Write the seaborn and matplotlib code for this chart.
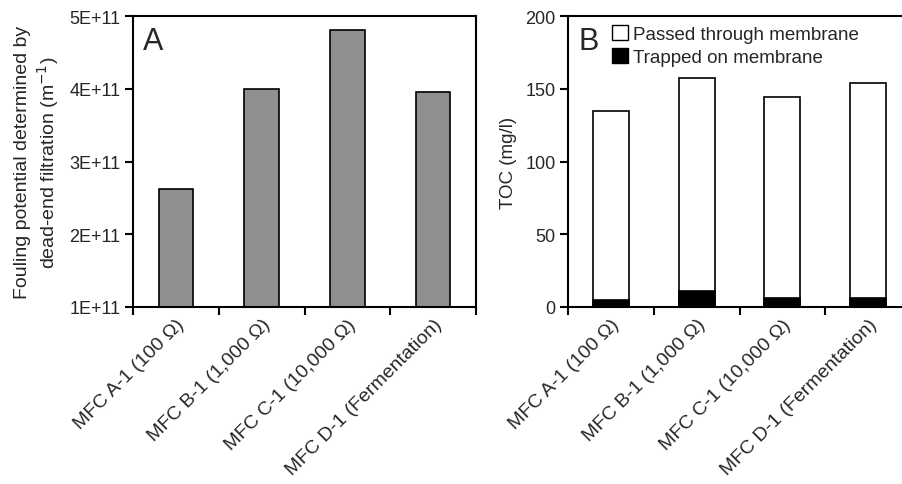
import matplotlib
matplotlib.use("Agg")
import matplotlib.pyplot as plt
from matplotlib.patches import Patch
import seaborn as sns
import pandas as pd

# Samples (shared by both panels)
samples = ["MFC A-1 (100 Ω)", "MFC B-1 (1,000 Ω)", "MFC C-1 (10,000 Ω)",
           "MFC D-1 (Fermentation)"]

# Panel A: fouling potential from dead-end filtration (m^-1)
fouling = [2.62e11, 4.00e11, 4.81e11, 3.95e11]
fouling_ticks = [1e11, 2e11, 3e11, 4e11, 5e11]
fouling_ticklabels = ["1E+11", "2E+11", "3E+11", "4E+11", "5E+11"]

# Panel B: TOC split into fraction trapped on / passed through the membrane (mg/l)
toc_trapped = [5.0, 11.0, 6.4, 6.4]
toc_passed = [129.5, 146.4, 137.9, 147.6]
toc_ticks = [0, 50, 100, 150, 200]

sns.set_theme(style="white")
plt.rcParams["font.family"] = ["Liberation Sans", "DejaVu Sans"]
plt.rcParams["axes.linewidth"] = 1.5
plt.rcParams["axes.edgecolor"] = "black"

fig = plt.figure(figsize=(9.02, 4.85), dpi=100)
axA = fig.add_axes([133 / 902, 177 / 485, 343 / 902, 291 / 485])
axB = fig.add_axes([568 / 902, 177 / 485, 343 / 902, 291 / 485])

dfA = pd.DataFrame({"sample": samples, "value": fouling})
sns.barplot(data=dfA, x="sample", y="value", color="#8f8f8f", edgecolor="black",
            linewidth=1.2, width=0.4, saturation=1, ax=axA)

dfB = pd.DataFrame({"sample": samples, "trapped": toc_trapped, "passed": toc_passed})
dfB["total"] = dfB["trapped"] + dfB["passed"]
sns.barplot(data=dfB, x="sample", y="total", color="white", edgecolor="black",
            linewidth=1.2, width=0.42, saturation=1, ax=axB)
sns.barplot(data=dfB, x="sample", y="trapped", color="black", edgecolor="black",
            linewidth=1.2, width=0.42, saturation=1, ax=axB)

for ax in (axA, axB):
    ax.set_xlim(-0.5, 3.5)
    ax.set_xlabel("")
    ax.set_xticks(range(len(samples)))
    ax.set_xticklabels(samples, rotation=45, ha="right", va="top",
                       rotation_mode="anchor", fontsize=14)
    ax.tick_params(axis="x", which="major", length=0, pad=6)
    ax.set_xticks([-0.5, 0.5, 1.5, 2.5, 3.5], minor=True)
    ax.tick_params(axis="x", which="minor", bottom=True, length=6, width=1.5,
                   direction="out", color="black")
    ax.tick_params(axis="y", left=True, length=6, width=1.5, direction="out",
                   labelsize=13, pad=3, color="black")
    for s in ax.spines.values():
        s.set_visible(True)
        s.set_color("black")
        s.set_linewidth(1.5)
    ax.grid(False)

axA.set_ylim(1e11, 5e11)
axA.set_yticks(fouling_ticks)
axA.set_yticklabels(fouling_ticklabels)
axA.set_ylabel("Fouling potential determined by\ndead-end filtration (m$^{-1}$)",
               fontsize=14, labelpad=6, linespacing=1.2)
axA.text(0.03, 0.915, "A", transform=axA.transAxes, fontsize=22,
         ha="left", va="center")

axB.set_ylim(0, 200)
axB.set_yticks(toc_ticks)
axB.set_ylabel("TOC (mg/l)", fontsize=13.5, labelpad=6)
axB.text(0.03, 0.915, "B", transform=axB.transAxes, fontsize=22,
         ha="left", va="center")

handles = [Patch(facecolor="white", edgecolor="black", linewidth=1.0),
           Patch(facecolor="black", edgecolor="black", linewidth=1.0)]
axB.legend(handles, ["Passed through membrane", "Trapped on membrane"],
           loc="upper left", bbox_to_anchor=(0.128, 0.968), frameon=False,
           fontsize=13.5, handlelength=0.85, handleheight=0.85,
           handletextpad=0.3, labelspacing=0.25, borderpad=0, borderaxespad=0)

fig.savefig("out.png", dpi=100)
